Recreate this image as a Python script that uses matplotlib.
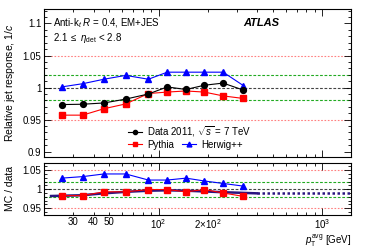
import matplotlib
matplotlib.use("Agg")
import matplotlib.pyplot as plt
from matplotlib.lines import Line2D
from matplotlib.ticker import FixedLocator, FixedFormatter, NullFormatter

plt.rcParams["font.family"] = ["Liberation Sans", "DejaVu Sans"]
plt.rcParams["mathtext.fontset"] = "custom"
plt.rcParams["mathtext.rm"] = "Liberation Sans"
plt.rcParams["mathtext.it"] = "Liberation Sans:italic"
plt.rcParams["mathtext.bf"] = "Liberation Sans:bold"
plt.rcParams["font.size"] = 7

# --- data ---
pt = [25.5, 34.3, 46.3, 62.9, 86.6, 112.9, 147, 190, 248, 330]
data_resp = [0.9735, 0.974, 0.976, 0.982, 0.990, 1.001, 0.997, 1.0036, 1.007, 0.996]
data_err = [0.002, 0.002, 0.0015, 0.0015, 0.0015, 0.0015, 0.0015, 0.0015, 0.0015, 0.002]
pythia_resp = [0.957, 0.957, 0.967, 0.9745, 0.9907, 0.993, 0.9947, 0.993, 0.987, 0.983]
pythia_err = [0.0015] * 10
herwig_resp = [1.001, 1.006, 1.013, 1.019, 1.013, 1.024, 1.024, 1.024, 1.024, 1.003]
herwig_err = [0.003, 0.004, 0.003, 0.003, 0.002, 0.002, 0.002, 0.002, 0.002, 0.003]

pythia_ratio = [0.983, 0.983, 0.993, 0.993, 0.999, 0.999, 0.993, 0.999, 0.990, 0.981]
herwig_ratio = [1.029, 1.033, 1.040, 1.040, 1.024, 1.024, 1.029, 1.0216, 1.015, 1.008]

# fitted ratio curve (solid inside fit range, dotted extrapolation)
fit_pt = [22, 34, 46, 63, 87, 113, 147, 190, 248, 400]
fit_val = [0.982, 0.984, 0.989, 0.993, 0.996, 0.997, 0.996, 0.994, 0.992, 0.989]
extrap_pt = [400, 1500]
extrap_val = [0.989, 0.989]

fig = plt.figure(figsize=(3.66, 2.48), dpi=100)
ax = fig.add_axes([0.121, 0.365, 0.838, 0.600])
axr = fig.add_axes([0.121, 0.133, 0.838, 0.210])

RED = "#ff0000"
BLUE = "#0000ff"


def ref_lines(a):
    a.axhline(1.05, color="#ff8080", lw=0.8, ls=(0, (1.5, 1.5)), zorder=1)
    a.axhline(0.95, color="#ff8080", lw=0.8, ls=(0, (1.5, 1.5)), zorder=1)
    a.axhline(1.02, color="#22aa22", lw=0.8, ls=(0, (2.5, 1.5)), zorder=1)
    a.axhline(0.98, color="#22aa22", lw=0.8, ls=(0, (2.5, 1.5)), zorder=1)
    a.axhline(1.0, color="#444444", lw=0.8, ls=(0, (2.5, 1.5)), zorder=1)


ref_lines(ax)
ax.errorbar(pt, data_resp, yerr=data_err, fmt="-o", color="black", mfc="black",
            ms=4.2, lw=0.8, elinewidth=0.8, capsize=0, zorder=5)
ax.errorbar(pt, pythia_resp, yerr=pythia_err, fmt="-s", color=RED, ms=4.3,
            lw=0.8, elinewidth=0.8, capsize=0, zorder=4)
ax.errorbar(pt, herwig_resp, yerr=herwig_err, fmt="-^", color=BLUE, ms=4.5,
            lw=0.8, elinewidth=0.8, capsize=0, zorder=4)

ax.set_xscale("log")
ax.set_xlim(20, 1500)
ax.set_ylim(0.891, 1.123)
ax.set_yticks([0.9, 0.95, 1.0, 1.05, 1.1])
ax.set_yticklabels(["0.9", "0.95", "1", "1.05", "1.1"])
ax.yaxis.set_minor_locator(FixedLocator([0.89 + 0.01 * i for i in range(24)]))

ax.text(0.028, 0.90, r"Anti-k$_{t}$ $R$ = 0.4, EM+JES", transform=ax.transAxes,
        ha="left", va="center", fontsize=7)
ax.text(0.028, 0.805, r"2.1 $\leq$ $\eta_{\mathrm{det}}$ < 2.8", transform=ax.transAxes,
        ha="left", va="center", fontsize=7)
ax.text(0.648, 0.905, "ATLAS", transform=ax.transAxes, ha="left", va="center",
        fontsize=8, fontweight="bold", fontstyle="italic")

h_data = Line2D([], [], color="black", marker="o", ms=3, lw=0.8)
h_py = Line2D([], [], color=RED, marker="s", ms=3.5, lw=0.8)
h_hw = Line2D([], [], color=BLUE, marker="^", ms=3.5, lw=0.8)
leg1 = ax.legend([h_data], [r"Data 2011, $\sqrt{s}$ = 7 TeV"], loc="center left",
                 bbox_to_anchor=(0.273, 0.172), frameon=False, borderpad=0,
                 borderaxespad=0, handlelength=1.4, handletextpad=0.6, fontsize=7)
ax.add_artist(leg1)
ax.legend([h_py, h_hw], ["Pythia", "Herwig++"], loc="center left", ncol=2,
          bbox_to_anchor=(0.273, 0.085), frameon=False, borderpad=0,
          borderaxespad=0, handlelength=1.4, handletextpad=0.6, columnspacing=0.8,
          fontsize=7)

# ratio panel
ref_lines(axr)
axr.plot(fit_pt, fit_val, color="#2a1580", lw=1.8, zorder=3)
axr.plot(extrap_pt, extrap_val, color="#2a1580", lw=1.8, ls=(0, (1, 1)), zorder=3)
axr.plot(pt, pythia_ratio, "-s", color=RED, ms=4.3, lw=0.8, zorder=4)
axr.plot(pt, herwig_ratio, "-^", color=BLUE, ms=4.5, lw=0.8, zorder=4)
axr.set_xscale("log")
axr.set_xlim(20, 1500)
axr.set_ylim(0.932, 1.069)
axr.set_yticks([0.95, 1.0, 1.05])
axr.set_yticklabels(["0.95", "1", "1.05"])
axr.yaxis.set_minor_locator(FixedLocator([0.94 + 0.01 * i for i in range(13)]))

for a in (ax, axr):
    a.tick_params(which="both", direction="in", top=True, right=True, labelsize=7,
                  width=0.6, pad=2)
    a.tick_params(which="major", length=5)
    a.tick_params(which="minor", length=2.5)
    for s in a.spines.values():
        s.set_linewidth(0.8)

ax.xaxis.set_major_formatter(NullFormatter())
ax.xaxis.set_minor_formatter(NullFormatter())
axr.xaxis.set_major_locator(FixedLocator([100, 1000]))
axr.xaxis.set_major_formatter(FixedFormatter([r"10$^{2}$", r"10$^{3}$"]))
axr.xaxis.set_minor_locator(FixedLocator([20, 30, 40, 50, 60, 70, 80, 90, 200, 300,
                                          400, 500, 600, 700, 800, 900]))
axr.xaxis.set_minor_formatter(FixedFormatter(["", "30", "40", "50", "", "", "", "",
                                              r"2$\times$10$^{2}$", "", "", "", "", "", "", ""]))
axr.tick_params(axis="x", which="both", pad=1.5)

fig.text(0.959, 0.062, r"$p_{\mathrm{T}}^{\mathrm{avg}}$ [GeV]", ha="right",
         va="top", fontsize=7)
fig.text(0.028, 0.665, r"Relative jet response, 1/$c$", rotation=90, ha="center",
         va="center", fontsize=7.5)
fig.text(0.028, 0.238, "MC / data", rotation=90, ha="center", va="center", fontsize=7.5)

fig.savefig("out.png", dpi=100)
